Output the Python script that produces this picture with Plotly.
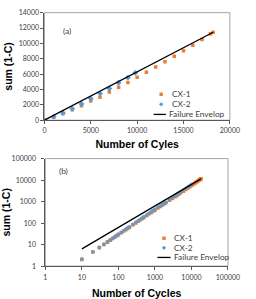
import plotly.graph_objects as go

# ---------------- data ----------------
# (a) linear plot
cx1_cycles_lin = [0, 1000, 2000, 3000, 4000, 5000, 6000, 7000, 8000, 9000, 10000,
                  11000, 12000, 13000, 14000, 15000, 16000, 17000, 17900, 18200]
cx1_sum_lin = [0, 375, 875, 1375, 1875, 2500, 3000, 3670, 4290, 4920, 5580,
               6250, 6920, 7620, 8330, 9040, 9750, 10500, 11250, 11460]
cx2_cycles_lin = [0, 1000, 2000, 3000, 4000, 5000, 6000, 7000, 8000, 9000, 9800]
cx2_sum_lin = [0, 460, 920, 1500, 2120, 2790, 3460, 4120, 4870, 5540, 6170]

# failure envelope
env_cycles = [0, 10, 18200]
env_sum = [0, 6.3, 11450]

# (b) log-log plot
cx1_cycles_log = [10, 20, 30, 40, 50, 60, 70, 80, 90, 100, 120, 140, 160, 180, 200,
                  250, 300, 350, 400, 450, 500, 600, 700, 800, 900, 1000, 1200, 1400,
                  1600, 1800, 2000, 2500, 3000, 3500, 4000, 4500, 5000, 6000, 7000,
                  8000, 9000, 10000, 11000, 12000, 13000, 14000, 15000, 16000, 17000,
                  17900, 18200]
cx1_sum_log = [2.05, 4.5, 7.2, 10.1, 13.0, 16.1, 19.2, 22.4, 25.6, 29, 35.7, 42.6,
               49.7, 56.9, 64, 83, 102, 122, 143, 163, 184, 227, 271, 316, 362, 400,
               505, 600, 700, 800, 880, 1170, 1400, 1700, 1900, 2250, 2500, 3000,
               3670, 4290, 4920, 5580, 6250, 6920, 7620, 8330, 9040, 9750, 10500,
               11250, 11460]
cx2_cycles_log = [10, 20, 30, 40, 50, 60, 70, 80, 90, 100, 120, 140, 160, 180, 200,
                  250, 300, 350, 400, 450, 500, 600, 700, 800, 900, 1000, 1200, 1400,
                  1600, 1800, 2000, 2500, 3000, 3500, 4000, 4500, 5000, 6000, 7000,
                  8000, 9000, 9800]
cx2_sum_log = [2.1, 4.6, 7.4, 10.3, 13.3, 16.5, 19.7, 23, 26.4, 30, 37, 44.5, 52,
               60, 67, 87, 108, 129, 151, 173, 196, 243, 290, 339, 390, 445, 530,
               625, 720, 820, 920, 1200, 1500, 1800, 2120, 2450, 2790, 3460, 4120,
               4870, 5540, 6170]

lin_xticks = [0, 5000, 10000, 15000, 20000]
lin_yticks = [0, 2000, 4000, 6000, 8000, 10000, 12000, 14000]
log_ticks = [1, 10, 100, 1000, 10000, 100000]
series_names = ["CX-1", "CX-2", "Failure Envelop"]

ORANGE = "#ED7D31"
BLUE = "#5B9BD5"
W, H = 256, 299


def px(x):
    return x / W


def py(y):
    return (H - y) / H


fig = go.Figure()

# (a)
fig.add_trace(go.Scatter(x=cx1_cycles_lin, y=cx1_sum_lin, mode="markers", name=series_names[0],
                         marker=dict(symbol="square", size=3.5, color=ORANGE),
                         xaxis="x", yaxis="y", showlegend=False))
fig.add_trace(go.Scatter(x=cx2_cycles_lin, y=cx2_sum_lin, mode="markers", name=series_names[1],
                         marker=dict(symbol="diamond", size=4.5, color=BLUE),
                         xaxis="x", yaxis="y", showlegend=False))
fig.add_trace(go.Scatter(x=env_cycles, y=env_sum, mode="lines", name=series_names[2],
                         line=dict(color="black", width=1.3),
                         xaxis="x", yaxis="y", showlegend=False))
# (b)
fig.add_trace(go.Scatter(x=cx1_cycles_log, y=cx1_sum_log, mode="markers", name=series_names[0],
                         marker=dict(symbol="square", size=3.6, color=ORANGE),
                         xaxis="x2", yaxis="y2", showlegend=False))
fig.add_trace(go.Scatter(x=cx2_cycles_log, y=cx2_sum_log, mode="markers", name=series_names[1],
                         marker=dict(symbol="diamond", size=3.4, color=BLUE, opacity=0.85),
                         xaxis="x2", yaxis="y2", showlegend=False))
fig.add_trace(go.Scatter(x=env_cycles[1:], y=env_sum[1:], mode="lines", name=series_names[2],
                         line=dict(color="black", width=1.3),
                         xaxis="x2", yaxis="y2", showlegend=False))

tickfont = dict(family="Lato", size=7, color="#404040")
titlefont = dict(family="Liberation Sans", size=10.5, color="#000000", weight="bold")
axis_common = dict(showgrid=False, zeroline=False, showline=True, linecolor="#595959",
                   linewidth=1, ticks="outside", ticklen=3, tickcolor="#595959",
                   tickfont=tickfont, title_font=titlefont)

ax_dom = [44 / W, 241 / W]
ay_dom = [(H - 120) / H, (H - 8) / H]
bx_dom = [45 / W, 239 / W]
by_dom = [(H - 272) / H, (H - 160) / H]

legfont = dict(family="Lato", size=8.3, color="#404040")


def legend_block(x_line0, x_line1, x_marker, x_text_mk, x_text_ln, ys):
    shapes, anns = [], []
    s = 1.8
    # square marker
    shapes.append(dict(type="rect", xref="paper", yref="paper",
                       x0=px(x_marker - s), x1=px(x_marker + s),
                       y0=py(ys[0] + s), y1=py(ys[0] - s),
                       fillcolor=ORANGE, line=dict(width=0)))
    # diamond marker
    d = 2.3
    shapes.append(dict(type="path", xref="paper", yref="paper",
                       path=f"M {px(x_marker - d)},{py(ys[1])} L {px(x_marker)},{py(ys[1] - d)} "
                            f"L {px(x_marker + d)},{py(ys[1])} L {px(x_marker)},{py(ys[1] + d)} Z",
                       fillcolor=BLUE, line=dict(width=0)))
    # line
    shapes.append(dict(type="line", xref="paper", yref="paper",
                       x0=px(x_line0), x1=px(x_line1), y0=py(ys[2]), y1=py(ys[2]),
                       line=dict(color="black", width=1.3)))
    for i, name in enumerate(series_names):
        xt = x_text_ln if i == 2 else x_text_mk
        anns.append(dict(text=name, xref="paper", yref="paper", x=px(xt), y=py(ys[i]),
                         xanchor="left", yanchor="middle", showarrow=False, font=legfont))
    return shapes, anns


sh_a, an_a = legend_block(160, 173, 168, 177, 174, [93, 103.5, 114])
sh_b, an_b = legend_block(164, 178, 171, 180, 179, [243, 253, 263])

fig.update_layout(
    width=W, height=H, margin=dict(l=0, r=0, t=0, b=0),
    paper_bgcolor="white", plot_bgcolor="white", showlegend=False,
    xaxis=dict(domain=ax_dom, anchor="y", range=[0, 20000], tickvals=lin_xticks,
               ticktext=[str(v) for v in lin_xticks],
               title=dict(text="Number of Cyles", standoff=8), **axis_common),
    yaxis=dict(domain=ay_dom, anchor="x", range=[0, 14000], tickvals=lin_yticks,
               ticktext=[str(v) for v in lin_yticks],
               title=dict(text="sum (1-C)", standoff=4), **axis_common),
    xaxis2=dict(domain=bx_dom, anchor="y2", type="log", range=[0, 5], tickvals=log_ticks,
                ticktext=[str(v) for v in log_ticks], ticklabelstandoff=2,
                title=dict(text="Number of Cycles", standoff=10), **axis_common),
    yaxis2=dict(domain=by_dom, anchor="x2", type="log", range=[0, 5], tickvals=log_ticks,
                ticktext=[str(v) for v in log_ticks], ticklabelstandoff=4,
                title=dict(text="sum (1-C)", standoff=4), **axis_common),
    shapes=[
        dict(type="rect", xref="x domain", yref="y domain", x0=0, x1=1, y0=0, y1=1,
             line=dict(color="#A6A6A6", width=1), layer="below"),
        dict(type="rect", xref="x2 domain", yref="y2 domain", x0=0, x1=1, y0=0, y1=1,
             line=dict(color="#A6A6A6", width=1), layer="below"),
    ] + sh_a + sh_b,
    annotations=[
        dict(text="(a)", xref="paper", yref="paper", x=px(62), y=py(20),
             showarrow=False, font=legfont),
        dict(text="(b)", xref="paper", yref="paper", x=px(57), y=py(173),
             showarrow=False, font=legfont),
    ] + an_a + an_b,
)

fig.write_html("out.html")
